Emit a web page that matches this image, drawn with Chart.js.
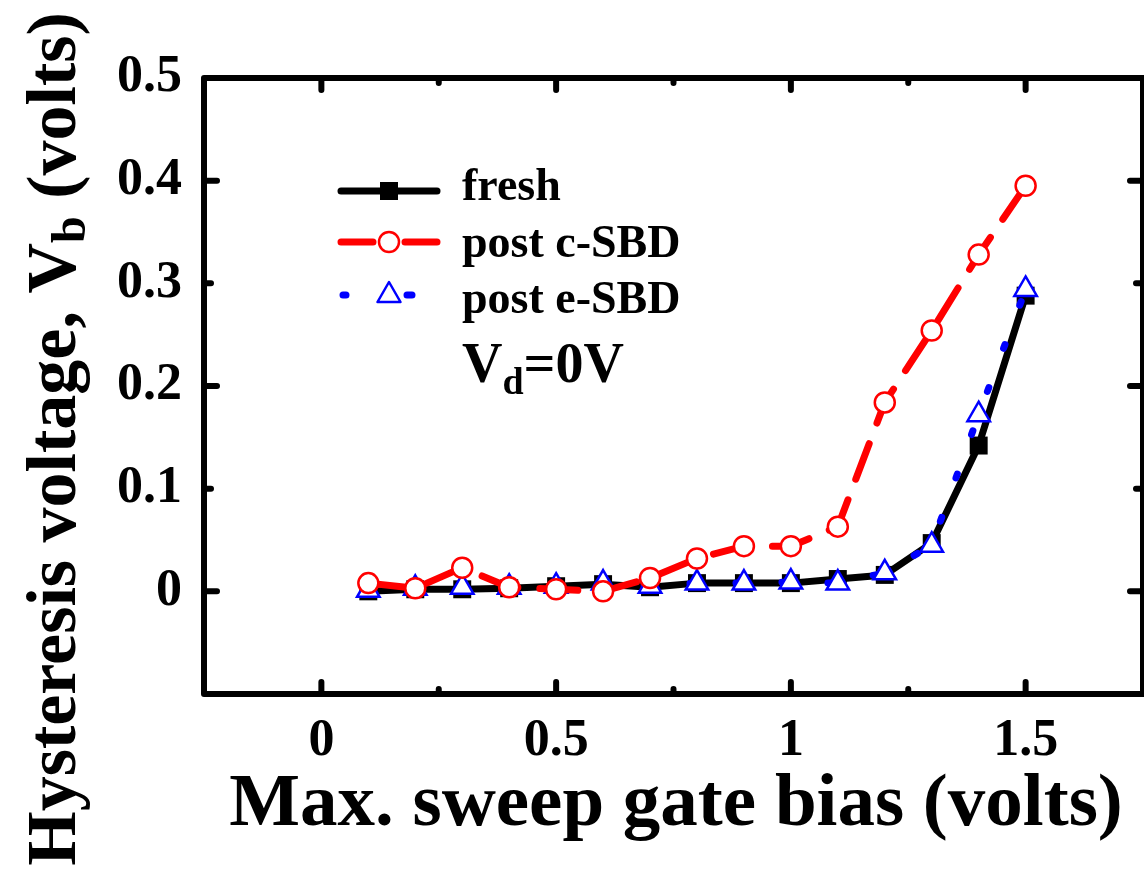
<!DOCTYPE html>
<html>
<head>
<meta charset="utf-8">
<script src="https://cdn.jsdelivr.net/npm/chart.js@4/dist/chart.umd.min.js"></script>
<style>
  html, body { margin: 0; padding: 0; background: #fff; overflow: hidden; }
  canvas { display: block; }
</style>
</head>
<body>
<canvas id="hyst" width="1144" height="881"></canvas>
<script>
// sweep gate bias (volts)
const gateBias = [0.1, 0.2, 0.3, 0.4, 0.5, 0.6, 0.7, 0.8, 0.9, 1.0, 1.1, 1.2, 1.3, 1.4, 1.5];
// hysteresis voltage Vb (volts)
const fresh = [0.000, 0.002, 0.002, 0.003, 0.005, 0.007, 0.004, 0.008, 0.008, 0.008, 0.012, 0.016, 0.047, 0.142, 0.288];
const postCSBD = [0.008, 0.003, 0.023, 0.004, 0.002, 0.000, 0.013, 0.032, 0.044, 0.044, 0.063, 0.184, 0.254, 0.328, 0.395];
const postESBD = [0.001, 0.003, 0.004, 0.004, 0.005, 0.008, 0.005, 0.008, 0.008, 0.009, 0.008, 0.018, 0.045, 0.172, 0.294];

const seriesNames = ['fresh', 'post c-SBD', 'post e-SBD'];
const xTickLabels = [0, 0.5, 1, 1.5];
const yTickLabels = [0, 0.1, 0.2, 0.3, 0.4, 0.5];

const SERIF = "'Liberation Serif', 'Times New Roman', serif";

function pts(ys) {
    return gateBias.map(function (x, i) { return { x: x, y: ys[i] }; });
}

const frameAndTicks = {
    id: 'frameAndTicks',
    afterDraw: function (chart) {
        const ctx = chart.ctx;
        const a = chart.chartArea;
        const xs = chart.scales.x, ys = chart.scales.y;
        ctx.save();
        ctx.strokeStyle = '#000';
        ctx.lineWidth = 6;
        ctx.lineCap = 'round';
        ctx.lineJoin = 'round';
        ctx.strokeRect(a.left, a.top, a.right - a.left, a.bottom - a.top);
        ctx.beginPath();
        xs.ticks.forEach(function (t) {
            const px = xs.getPixelForValue(t.value);
            if (px <= a.left + 2 || px >= a.right - 2) return;
            const major = Math.abs(t.value * 2 - Math.round(t.value * 2)) < 1e-6;
            const len = major ? 12 : 5;
            ctx.moveTo(px, a.bottom); ctx.lineTo(px, a.bottom - len);
            ctx.moveTo(px, a.top); ctx.lineTo(px, a.top + len);
        });
        ys.ticks.forEach(function (t) {
            const py = ys.getPixelForValue(t.value);
            if (py >= a.bottom - 2 || py <= a.top + 2) return;
            const major = Math.abs(t.value * 5 - Math.round(t.value * 5)) < 1e-6;
            const len = major ? 13 : 7;
            ctx.moveTo(a.left, py); ctx.lineTo(a.left + len, py);
            ctx.moveTo(a.right, py); ctx.lineTo(a.right - len, py);
        });
        ctx.stroke();

        // axis titles
        ctx.fillStyle = '#000';
        ctx.font = 'bold 75px ' + SERIF;
        ctx.textAlign = 'center';
        ctx.textBaseline = 'alphabetic';
        ctx.fillText('Max. sweep gate bias (volts)', 676, 825);

        ctx.save();
        ctx.translate(75, 439);
        ctx.rotate(-Math.PI / 2);
        const big = 'bold 70px ' + SERIF, small = 'bold 48px ' + SERIF;
        const parts = [['Hysteresis voltage, V', big, 0], ['b', small, 10], [' (volts)', big, 0]];
        let total = 0;
        parts.forEach(function (p) { ctx.font = p[1]; total += ctx.measureText(p[0]).width; });
        let cx = -total / 2;
        ctx.textAlign = 'left';
        parts.forEach(function (p) {
            ctx.font = p[1];
            ctx.fillText(p[0], cx, p[2]);
            cx += ctx.measureText(p[0]).width;
        });
        ctx.restore();

        // legend
        drawLegend(ctx);
        ctx.restore();
    }
};

function drawLegend(ctx) {
    const x0 = 341, x1 = 437, xm = 389;
    const rows = [191, 242, 295];
    ctx.save();
    ctx.lineCap = 'round';
    ctx.lineWidth = 7;

    // fresh
    ctx.strokeStyle = '#000';
    ctx.beginPath(); ctx.moveTo(x0, rows[0]); ctx.lineTo(x1, rows[0]); ctx.stroke();
    ctx.fillStyle = '#000';
    ctx.fillRect(xm - 9, rows[0] - 9, 18, 18);

    // post c-SBD
    ctx.strokeStyle = '#ff0000';
    ctx.beginPath();
    ctx.moveTo(x0, rows[1]); ctx.lineTo(x0 + 32, rows[1]);
    ctx.moveTo(x1 - 32, rows[1]); ctx.lineTo(x1, rows[1]);
    ctx.stroke();
    ctx.lineWidth = 2.5;
    ctx.fillStyle = '#fff';
    ctx.beginPath(); ctx.arc(xm, rows[1], 10, 0, Math.PI * 2); ctx.fill(); ctx.stroke();

    // post e-SBD
    ctx.strokeStyle = '#0000ff';
    ctx.lineWidth = 7;
    ctx.beginPath();
    ctx.moveTo(x0 + 2, rows[2]); ctx.lineTo(x0 + 5, rows[2]);
    ctx.moveTo(xm + 18, rows[2]); ctx.lineTo(xm + 23, rows[2]);
    ctx.stroke();
    ctx.lineWidth = 2.5;
    ctx.fillStyle = '#fff';
    ctx.beginPath();
    ctx.moveTo(xm, rows[2] - 13);
    ctx.lineTo(xm + 11.5, rows[2] + 7);
    ctx.lineTo(xm - 11.5, rows[2] + 7);
    ctx.closePath(); ctx.fill(); ctx.stroke();

    ctx.fillStyle = '#000';
    ctx.textAlign = 'left';
    ctx.textBaseline = 'alphabetic';
    ctx.font = 'bold 46px ' + SERIF;
    ctx.fillText(seriesNames[0], 462, 200);
    ctx.fillText(seriesNames[1], 462, 257);
    ctx.fillText(seriesNames[2], 462, 313);

    let x = 462;
    ctx.font = 'bold 56px ' + SERIF;
    ctx.fillText('V', x, 382); x += ctx.measureText('V').width;
    ctx.font = 'bold 38px ' + SERIF;
    ctx.fillText('d', x, 394); x += ctx.measureText('d').width;
    ctx.font = 'bold 56px ' + SERIF;
    ctx.fillText('=0V', x, 382);
    ctx.restore();
}

new Chart('hyst', {
    type: 'line',
    data: {
        datasets: [{
            label: seriesNames[1],
            data: pts(postCSBD),
            borderColor: '#ff0000',
            borderWidth: 7,
            borderDash: [38, 22],
            borderCapStyle: 'round',
            pointStyle: 'circle',
            pointRadius: 10,
            pointBorderWidth: 2.5,
            pointBackgroundColor: '#fff',
            pointBorderColor: '#ff0000',
            order: 0
        }, {
            label: seriesNames[2],
            data: pts(postESBD),
            borderColor: '#0000ff',
            borderWidth: 7,
            borderDash: [4, 42],
            borderCapStyle: 'round',
            pointStyle: 'triangle',
            pointRadius: 13,
            pointBorderWidth: 2.5,
            pointBackgroundColor: '#fff',
            pointBorderColor: '#0000ff',
            order: 1
        }, {
            label: seriesNames[0],
            data: pts(fresh),
            borderColor: '#000',
            borderWidth: 7,
            borderCapStyle: 'round',
            borderJoinStyle: 'round',
            pointStyle: 'rect',
            pointRadius: 12.7,
            pointBorderWidth: 0,
            pointBackgroundColor: '#000',
            pointBorderColor: '#000',
            order: 2
        }]
    },
    options: {
        responsive: false,
        animation: false,
        events: [],
        layout: { autoPadding: false, padding: { top: 78, right: 1, left: 0, bottom: 0 } },
        plugins: { legend: { display: false }, tooltip: { enabled: false } },
        scales: {
            x: {
                type: 'linear',
                min: -0.25,
                max: 1.75,
                grid: { display: false, drawTicks: false },
                border: { display: false },
                ticks: {
                    stepSize: 0.25,
                    autoSkip: false,
                    maxRotation: 0,
                    padding: 16,
                    color: '#000',
                    font: { family: SERIF, size: 52, weight: 'bold' },
                    callback: function (v) {
                        const hit = xTickLabels.find(function (t) { return Math.abs(t - v) < 1e-6; });
                        return hit === undefined ? '' : String(hit);
                    }
                },
                afterFit: function (s) {
                    s.height = 881 - 694;
                    s.paddingLeft = 0;
                    s.paddingRight = 0;
                }
            },
            y: {
                type: 'linear',
                min: -0.1,
                max: 0.5,
                grid: { display: false, drawTicks: false },
                border: { display: false },
                ticks: {
                    stepSize: 0.1,
                    autoSkip: false,
                    padding: 22,
                    color: '#000',
                    font: { family: SERIF, size: 52, weight: 'bold' },
                    callback: function (v) {
                        const hit = yTickLabels.find(function (t) { return Math.abs(t - v) < 1e-6; });
                        return hit === undefined ? '' : String(hit);
                    }
                },
                afterFit: function (s) {
                    s.width = 204;
                    s.paddingTop = 0;
                    s.paddingBottom = 0;
                }
            }
        }
    },
    plugins: [frameAndTicks]
});
</script>
</body>
</html>
